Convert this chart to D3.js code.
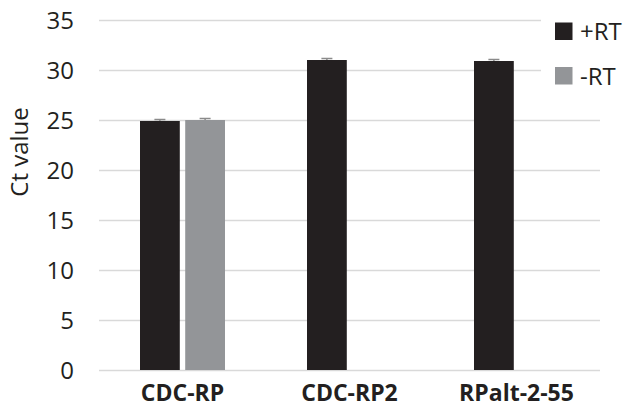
<!DOCTYPE html>
<html>
<head>
<meta charset="utf-8">
<script src="https://cdn.jsdelivr.net/npm/d3@7"></script>
<style>
  html, body { margin: 0; padding: 0; background: #fff; }
  svg { display: block; font-family: "Open Sans", "Noto Sans", sans-serif; }
</style>
</head>
<body>
<svg id="chart" width="626" height="419"></svg>
<script>
const categories = ["CDC-RP", "CDC-RP2", "RPalt-2-55"];
const seriesNames = ["+RT", "-RT"];
const plusRT = [24.9, 31.0, 30.9];
const plusRTErr = [0.15, 0.15, 0.15];
const minusRT = [25.0, null, null];
const minusRTErr = [0.15, null, null];
const yTicks = [0, 5, 10, 15, 20, 25, 30, 35];
const colors = ["#231f20", "#939598"];

const svg = d3.select("#chart");
const margin = { left: 99, right: 26, top: 20, bottom: 49 };
const W = 626, H = 419;

const x = d3.scaleBand().domain(categories).range([margin.left, W - margin.right]).padding(0);
const y = d3.scaleLinear().domain([0, 35]).range([H - margin.bottom, margin.top]);
const x1 = d3.scaleBand().domain(seriesNames).range([-42.5, 42.5]).paddingInner(0.12).paddingOuter(0);

// gridlines (top two cut short by legend)
const grid = svg.append("g");
grid.selectAll("line").data(yTicks).join("line")
  .attr("x1", margin.left)
  .attr("x2", d => d >= 30 ? 541 : W - margin.right)
  .attr("y1", d => Math.round(y(d)) + 0.5)
  .attr("y2", d => Math.round(y(d)) + 0.5)
  .attr("stroke", "#d9d9d9")
  .attr("stroke-width", 1.3);

// y axis via d3.axisLeft, with domain & ticks hidden
const yAxis = svg.append("g")
  .attr("transform", `translate(${74},0)`)
  .call(d3.axisLeft(y).tickValues(yTicks).tickSize(0).tickPadding(0));
yAxis.select(".domain").remove();
yAxis.attr("font-size", null).attr("font-family", null);
yAxis.selectAll("text")
  .style("font-family", "Open Sans")
  .style("font-size", "24px")
  .attr("fill", "#231f20")
  .attr("dy", "0.36em");

// x axis labels
const xAxis = svg.append("g")
  .attr("transform", `translate(0,${H - margin.bottom})`)
  .call(d3.axisBottom(x).tickSize(0).tickPadding(0));
xAxis.select(".domain").remove();
xAxis.attr("font-size", null).attr("font-family", null);
xAxis.selectAll("text")
  .style("font-family", "Open Sans")
  .style("font-weight", "bold")
  .style("font-size", "23px")
  .attr("fill", "#231f20")
  .attr("dy", null)
  .attr("y", 31);

// bars
const data = [];
categories.forEach((c, i) => {
  [plusRT, minusRT].forEach((arr, s) => {
    if (arr[i] != null) {
      data.push({ cat: c, series: seriesNames[s], value: arr[i], err: s === 0 ? plusRTErr[i] : minusRTErr[i], color: colors[s] });
    }
  });
});

const bars = svg.append("g");
bars.selectAll("rect").data(data).join("rect")
  .attr("x", d => x(d.cat) + x.bandwidth() / 2 + x1(d.series))
  .attr("width", x1.bandwidth())
  .attr("y", d => y(d.value))
  .attr("height", d => y(0) - y(d.value))
  .attr("fill", d => d.color);

// error bars
const eb = svg.append("g").attr("stroke", "#8a8a8a").attr("stroke-width", 1.5);
data.forEach(d => {
  const cx = x(d.cat) + x.bandwidth() / 2 + x1(d.series) + x1.bandwidth() / 2;
  eb.append("line").attr("x1", cx).attr("x2", cx).attr("y1", y(d.value)).attr("y2", y(d.value + d.err));
  eb.append("line").attr("x1", cx - 5.5).attr("x2", cx + 5.5).attr("y1", y(d.value + d.err)).attr("y2", y(d.value + d.err));
});

// y axis title
svg.append("text")
  .attr("transform", `translate(28,152) rotate(-90)`)
  .attr("text-anchor", "middle")
  .style("font-family", "Open Sans")
  .style("font-size", "24px")
  .attr("fill", "#231f20")
  .text("Ct value");

// legend
const legend = svg.append("g");
seriesNames.forEach((s, i) => {
  const ly = 22.5 + i * 44.5;
  legend.append("rect").attr("x", 555).attr("y", ly).attr("width", 17.5).attr("height", 17.5).attr("fill", colors[i]);
  legend.append("text").attr("x", 580).attr("y", ly + 17.5)
    .style("font-family", "Open Sans").style("font-size", "24px").attr("fill", "#231f20").text(s);
});
</script>
</body>
</html>
